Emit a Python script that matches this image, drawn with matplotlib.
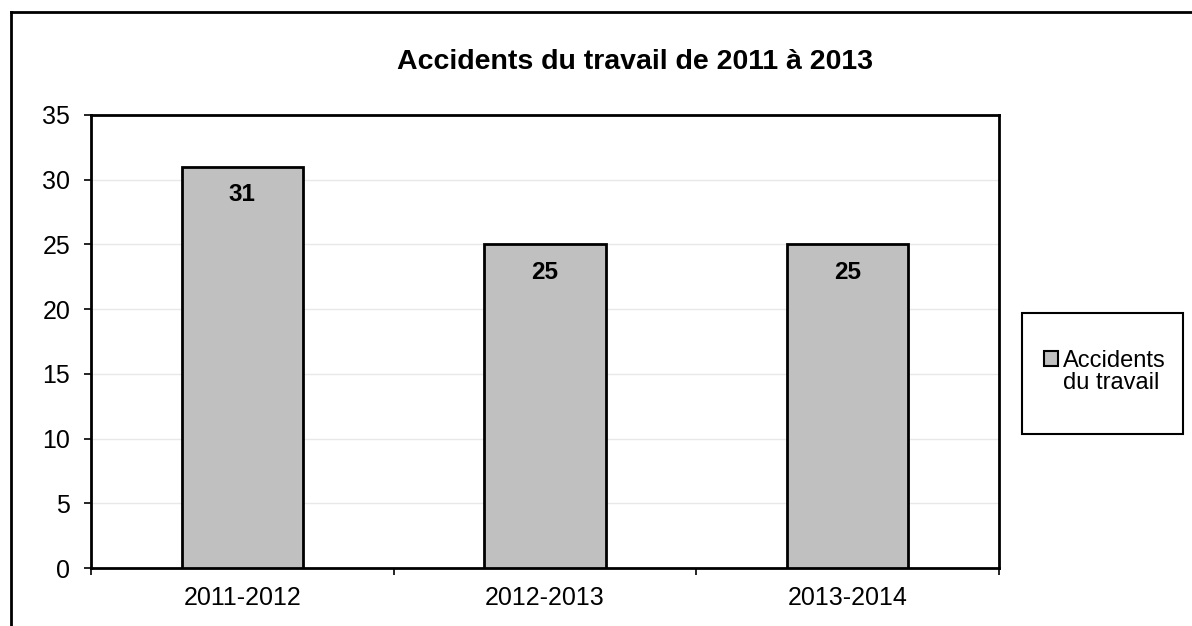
import matplotlib.pyplot as plt
from matplotlib.lines import Line2D
from matplotlib.patches import Patch, Rectangle

plt.rcParams['font.family'] = ['Liberation Sans', 'DejaVu Sans']

periods = ['2011-2012', '2012-2013', '2013-2014']
accidents = [31, 25, 25]
series_name = ['Accidents', 'du travail']

W, H = 1192, 626
fig = plt.figure(figsize=(W / 100, H / 100), dpi=100)
ax = fig.add_axes([91 / W, 1 - 568 / H, (999 - 91) / W, (568 - 115) / H])

x = range(len(periods))
bars = ax.bar(x, accidents, width=0.4, color='#c0c0c0', edgecolor='black',
              linewidth=2, zorder=3)

for b, v in zip(bars, accidents):
    ax.annotate(str(v), (b.get_x() + b.get_width() / 2, v), xytext=(0, -20),
                textcoords='offset points', ha='center', va='center',
                fontsize=17.5, fontweight='bold', zorder=4)

ax.set_xlim(-0.5, len(periods) - 0.5)
ax.set_ylim(0, 35)
ax.set_yticks(range(0, 36, 5))
ax.set_xticks(list(x))
ax.set_xticklabels(periods)
ax.set_xticks([i - 0.5 for i in range(len(periods) + 1)], minor=True)
ax.tick_params(axis='x', which='major', length=0, pad=13, labelsize=18)
ax.tick_params(axis='x', which='minor', length=5, width=1.2, direction='out')
ax.tick_params(axis='y', length=5, width=1.2, pad=10, labelsize=18)
ax.yaxis.grid(True, color='#e8e8e8', linewidth=1, zorder=0)
ax.set_axisbelow(True)
for s in ax.spines.values():
    s.set_linewidth(2)

fig.text(635 / W, 1 - 62 / H, 'Accidents du travail de 2011 à 2013',
         ha='center', va='center', fontsize=20.5, fontweight='bold')

# legend: box drawn separately, entries without frame
fig.add_artist(Rectangle((1022 / W, 1 - 434 / H), (1183 - 1022) / W, (434 - 313) / H,
                         facecolor='white', edgecolor='black', linewidth=1.5,
                         transform=fig.transFigure))
handles = [Patch(facecolor='#c0c0c0', edgecolor='black', linewidth=1.5),
           Patch(facecolor='none', edgecolor='none')]
leg = fig.legend(handles, series_name, loc='center',
                 bbox_to_anchor=(1105 / W, 1 - 372 / H),
                 fontsize=17, frameon=False, handlelength=0.6,
                 handleheight=0.6, handletextpad=0.2, labelspacing=0.0,
                 borderpad=0, borderaxespad=0)

# outer chart-area frame (only left and top edges visible in the crop)
fig.add_artist(Line2D([10.5 / W, 10.5 / W], [0, 1 - 12 / H], color='black',
                      linewidth=2, transform=fig.transFigure))
fig.add_artist(Line2D([10.5 / W, 1], [1 - 12 / H, 1 - 12 / H], color='black',
                      linewidth=2, transform=fig.transFigure))

fig.savefig('out.png', dpi=100)
